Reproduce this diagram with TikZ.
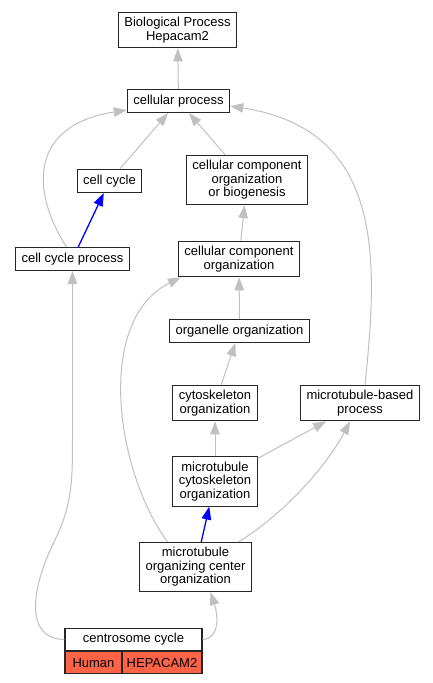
\documentclass[tikz,border=0pt]{standalone}
\usepackage{fontspec}
\setmainfont{Liberation Sans}
\usepackage{tikz}
\usetikzlibrary{arrows.meta,calc,positioning}
\definecolor{edgegray}{RGB}{192,192,192}
\definecolor{tomatored}{RGB}{255,99,71}
\tikzstyle{term} = [rectangle, draw=black!85, line width=1.1pt, fill=white, align=center,
    inner xsep=6pt, inner ysep=5pt, minimum height=23pt, font=\fontsize{13}{13.5}\selectfont]
\tikzstyle{cell} = [term, fill=tomatored, minimum height=22pt, inner sep=0pt]
\tikzstyle{line} = [draw, edgegray, line width=1pt, -{Triangle[length=13pt,width=9.5pt]}]
\tikzstyle{isa} = [draw, blue, line width=1.3pt, -{Triangle[length=13pt,width=9.5pt]}]

\begin{document}
\begin{tikzpicture}[x=1pt,y=-1pt]
    \useasboundingbox (0,0) rectangle (433,683);
    % Place nodes
    \node [term] (bp) at (177.5,30) {Biological Process\\Hepacam2};
    \node [term] (cp) at (178.5,101) {cellular process};
    \node [term] (cc) at (109.5,181) {cell cycle};
    \node [term] (ccoob) at (247,180) {cellular component\\organization\\or biogenesis};
    \node [term] (ccp) at (72.5,259) {cell cycle process};
    \node [term] (cco) at (239,259) {cellular component\\organization};
    \node [term] (org) at (239.5,331) {organelle organization};
    \node [term] (cyto) at (215,403) {cytoskeleton\\organization};
    \node [term] (mbp) at (360,403) {microtubule-based\\process};
    \node [term] (mtc) at (215,481.5) {microtubule\\cytoskeleton\\organization};
    \node [term] (mtoc) at (195.5,567) {microtubule\\organizing center\\organization};
    \node [term, minimum width=137pt, minimum height=22pt, inner sep=0pt] (cen) at (133.5,639.5) {centrosome cycle};
    \node [cell, minimum width=57pt, anchor=north west] (human) at (cen.south west) {Human};
    \node [cell, minimum width=80pt, anchor=north east] (hepa) at (cen.south east) {HEPACAM2};
    % Draw edges
    \path [line] (cp) -- (bp);
    \path [line] (cc) -- (cp);
    \path [line] (ccoob) -- (cp);
    \path [isa] (ccp) -- (cc);
    \path [line] ($(ccp.north)+(-6,0)$) .. controls (30,190) and (30,125) .. ($(cp.south west)+(0,-3)$);
    \path [line] (cco) -- (ccoob);
    \path [line] (org) -- (cco);
    \path [line] (cyto) -- (org);
    \path [line] ($(mbp.north)+(5,0)$) .. controls (378,260) and (385,130) .. ($(cp.east)+(0,5)$);
    \path [line] (mtc) -- (cyto);
    \path [line] (mtc) -- (mbp);
    \path [isa] (mtoc) -- (mtc);
    \path [line] ($(mtoc.north)+(43,0)$) .. controls (290,510) and (330,460) .. ($(mbp.south)+(-10,0)$);
    \path [line] ($(mtoc.north)+(-28,0)$) .. controls (115,470) and (95,320) .. ($(cco.south west)+(3,0)$);
    \path [line] (cen.east) .. controls (220,639) and (218,615) .. ($(mtoc.south)+(15,0)$);
    \path [line] (cen.west) .. controls (25,639) and (30,590) .. (55,540)
        .. controls (72,505) and (72.5,480) .. (72.5,440) -- (ccp.south);
\end{tikzpicture}
\end{document}
